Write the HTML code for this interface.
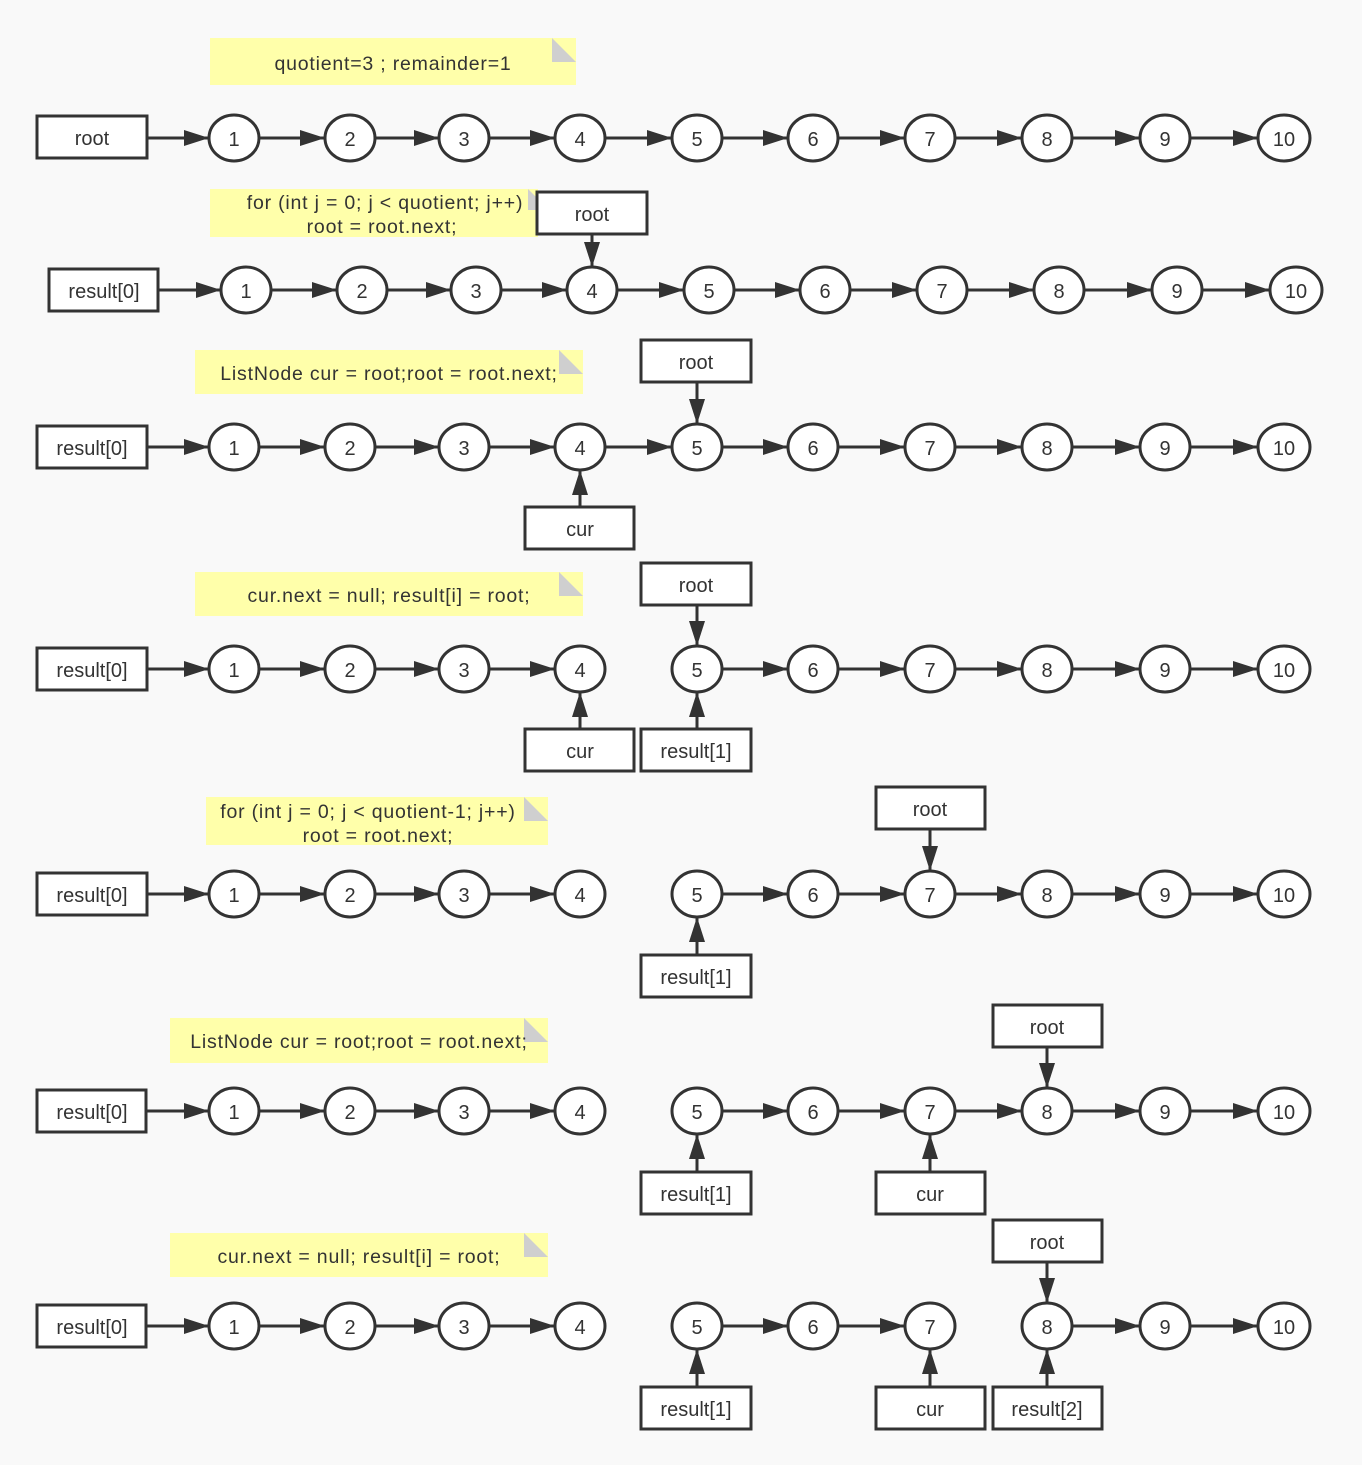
<!DOCTYPE html>
<html><head><meta charset="utf-8"><style>
html,body{margin:0;padding:0;background:#f9f9f9}
svg{display:block}
text{font-family:"Liberation Sans",sans-serif;font-size:20px;fill:#333;text-anchor:middle;dominant-baseline:central;transform:translateY(2px)}
.nt{letter-spacing:0.8px;font-size:19.5px}
.n{fill:#fff;stroke:#333;stroke-width:3}
.b{fill:#fff;stroke:#333;stroke-width:3}
.a{stroke:#333;stroke-width:3;fill:none}
.note{fill:#ffffaa}
.fold{fill:#cfcfcf}
</style></head><body>
<svg width="1362" height="1465" viewBox="0 0 1362 1465" xmlns="http://www.w3.org/2000/svg">
<defs>
<marker id="m" markerUnits="userSpaceOnUse" markerWidth="26" markerHeight="18" refX="25" refY="8" orient="auto"><path d="M0,0 L25,8 L0,16 z" fill="#333"/></marker>
<g id="c1"><ellipse class="n" cx="234" cy="0" rx="25" ry="23"/><text x="234" y="0">1</text></g>
<g id="c2"><ellipse class="n" cx="350" cy="0" rx="25" ry="23"/><text x="350" y="0">2</text></g>
<g id="c3"><ellipse class="n" cx="464" cy="0" rx="25" ry="23"/><text x="464" y="0">3</text></g>
<g id="c4"><ellipse class="n" cx="580" cy="0" rx="25" ry="23"/><text x="580" y="0">4</text></g>
<g id="c5"><ellipse class="n" cx="697" cy="0" rx="25" ry="23"/><text x="697" y="0">5</text></g>
<g id="c6"><ellipse class="n" cx="813" cy="0" rx="25" ry="23"/><text x="813" y="0">6</text></g>
<g id="c7"><ellipse class="n" cx="930" cy="0" rx="25" ry="23"/><text x="930" y="0">7</text></g>
<g id="c8"><ellipse class="n" cx="1047" cy="0" rx="25" ry="23"/><text x="1047" y="0">8</text></g>
<g id="c9"><ellipse class="n" cx="1165" cy="0" rx="25" ry="23"/><text x="1165" y="0">9</text></g>
<g id="c10"><ellipse class="n" cx="1284" cy="0" rx="26" ry="23"/><text x="1284" y="0">10</text></g>
<g id="a0"><line class="a" x1="147" y1="0" x2="209" y2="0" marker-end="url(#m)"/></g>
<g id="a1"><line class="a" x1="259" y1="0" x2="325" y2="0" marker-end="url(#m)"/></g>
<g id="a2"><line class="a" x1="375" y1="0" x2="439" y2="0" marker-end="url(#m)"/></g>
<g id="a3"><line class="a" x1="489" y1="0" x2="555" y2="0" marker-end="url(#m)"/></g>
<g id="a4"><line class="a" x1="605" y1="0" x2="672" y2="0" marker-end="url(#m)"/></g>
<g id="a5"><line class="a" x1="722" y1="0" x2="788" y2="0" marker-end="url(#m)"/></g>
<g id="a6"><line class="a" x1="838" y1="0" x2="905" y2="0" marker-end="url(#m)"/></g>
<g id="a7"><line class="a" x1="955" y1="0" x2="1022" y2="0" marker-end="url(#m)"/></g>
<g id="a8"><line class="a" x1="1072" y1="0" x2="1140" y2="0" marker-end="url(#m)"/></g>
<g id="a9"><line class="a" x1="1190" y1="0" x2="1258" y2="0" marker-end="url(#m)"/></g>
</defs>

<!-- notes -->
<rect class="note" x="210" y="38" width="366" height="47"/><path class="fold" d="M552,38 L576,62 L552,62 z"/><text class="nt" x="393" y="62">quotient=3 ;  remainder=1</text>
<rect class="note" x="210" y="189" width="328" height="48"/><path class="fold" d="M528,189 L538,199 L538,210 L528,210 z"/><text class="nt" x="385" y="201">for (int j = 0; j &lt; quotient; j++)</text><text class="nt" x="382" y="225">root = root.next;</text>
<rect class="note" x="195" y="350" width="388" height="44"/><path class="fold" d="M559,350 L583,374 L559,374 z"/><text class="nt" x="389" y="372">ListNode cur = root;root = root.next;</text>
<rect class="note" x="195" y="572" width="388" height="44"/><path class="fold" d="M559,572 L583,596 L559,596 z"/><text class="nt" x="389" y="594">cur.next = null; result[i] = root;</text>
<rect class="note" x="206" y="797" width="342" height="48"/><path class="fold" d="M524,797 L548,821 L524,821 z"/><text class="nt" x="368" y="810">for (int j = 0; j &lt; quotient-1; j++)</text><text class="nt" x="378" y="834">root = root.next;</text>
<rect class="note" x="170" y="1018" width="378" height="45"/><path class="fold" d="M524,1018 L548,1042 L524,1042 z"/><text class="nt" x="359" y="1040">ListNode cur = root;root = root.next;</text>
<rect class="note" x="170" y="1233" width="378" height="44"/><path class="fold" d="M524,1233 L548,1257 L524,1257 z"/><text class="nt" x="359" y="1255">cur.next = null; result[i] = root;</text>

<!-- row1 -->
<g transform="translate(0,138)">
<use href="#a0"/><use href="#a1"/><use href="#a2"/><use href="#a3"/><use href="#a4"/><use href="#a5"/><use href="#a6"/><use href="#a7"/><use href="#a8"/><use href="#a9"/>
<rect class="b" x="37" y="-22" width="110" height="42"/><text x="92" y="-1">root</text>
<use href="#c1"/><use href="#c2"/><use href="#c3"/><use href="#c4"/><use href="#c5"/><use href="#c6"/><use href="#c7"/><use href="#c8"/><use href="#c9"/><use href="#c10"/>
</g>

<!-- row2 -->
<g transform="translate(12,290)">
<use href="#a0"/><use href="#a1"/><use href="#a2"/><use href="#a3"/><use href="#a4"/><use href="#a5"/><use href="#a6"/><use href="#a7"/><use href="#a8"/><use href="#a9"/>
<rect class="b" x="37" y="-21" width="109" height="42"/><text x="92" y="0">result[0]</text>
<use href="#c1"/><use href="#c2"/><use href="#c3"/><use href="#c4"/><use href="#c5"/><use href="#c6"/><use href="#c7"/><use href="#c8"/><use href="#c9"/><use href="#c10"/>
</g>
<line class="a" x1="592" y1="234" x2="592" y2="267" marker-end="url(#m)"/>
<rect class="b" x="537" y="192" width="110" height="42"/><text x="592" y="213">root</text>

<!-- row3 -->
<g transform="translate(0,447)">
<use href="#a0"/><use href="#a1"/><use href="#a2"/><use href="#a3"/><use href="#a4"/><use href="#a5"/><use href="#a6"/><use href="#a7"/><use href="#a8"/><use href="#a9"/>
<rect class="b" x="37" y="-21" width="110" height="42"/><text x="92" y="0">result[0]</text>
<use href="#c1"/><use href="#c2"/><use href="#c3"/><use href="#c4"/><use href="#c5"/><use href="#c6"/><use href="#c7"/><use href="#c8"/><use href="#c9"/><use href="#c10"/>
</g>
<line class="a" x1="697" y1="382" x2="697" y2="424" marker-end="url(#m)"/>
<rect class="b" x="641" y="340" width="110" height="42"/><text x="696" y="361">root</text>
<line class="a" x1="580" y1="507" x2="580" y2="470" marker-end="url(#m)"/>
<rect class="b" x="525" y="507" width="109" height="42"/><text x="580" y="528">cur</text>

<!-- row4 -->
<g transform="translate(0,669)">
<use href="#a0"/><use href="#a1"/><use href="#a2"/><use href="#a3"/><use href="#a5"/><use href="#a6"/><use href="#a7"/><use href="#a8"/><use href="#a9"/>
<rect class="b" x="37" y="-21" width="110" height="42"/><text x="92" y="0">result[0]</text>
<use href="#c1"/><use href="#c2"/><use href="#c3"/><use href="#c4"/><use href="#c5"/><use href="#c6"/><use href="#c7"/><use href="#c8"/><use href="#c9"/><use href="#c10"/>
</g>
<line class="a" x1="697" y1="605" x2="697" y2="646" marker-end="url(#m)"/>
<rect class="b" x="641" y="563" width="110" height="42"/><text x="696" y="584">root</text>
<line class="a" x1="580" y1="729" x2="580" y2="692" marker-end="url(#m)"/>
<rect class="b" x="525" y="729" width="109" height="42"/><text x="580" y="750">cur</text>
<line class="a" x1="697" y1="729" x2="697" y2="692" marker-end="url(#m)"/>
<rect class="b" x="641" y="729" width="110" height="42"/><text x="696" y="750">result[1]</text>

<!-- row5 -->
<g transform="translate(0,894)">
<use href="#a0"/><use href="#a1"/><use href="#a2"/><use href="#a3"/><use href="#a5"/><use href="#a6"/><use href="#a7"/><use href="#a8"/><use href="#a9"/>
<rect class="b" x="37" y="-21" width="110" height="42"/><text x="92" y="0">result[0]</text>
<use href="#c1"/><use href="#c2"/><use href="#c3"/><use href="#c4"/><use href="#c5"/><use href="#c6"/><use href="#c7"/><use href="#c8"/><use href="#c9"/><use href="#c10"/>
</g>
<line class="a" x1="930" y1="829" x2="930" y2="871" marker-end="url(#m)"/>
<rect class="b" x="876" y="787" width="109" height="42"/><text x="930" y="808">root</text>
<line class="a" x1="697" y1="955" x2="697" y2="917" marker-end="url(#m)"/>
<rect class="b" x="641" y="955" width="110" height="42"/><text x="696" y="976">result[1]</text>

<!-- row6 -->
<g transform="translate(0,1111)">
<use href="#a0"/><use href="#a1"/><use href="#a2"/><use href="#a3"/><use href="#a5"/><use href="#a6"/><use href="#a7"/><use href="#a8"/><use href="#a9"/>
<rect class="b" x="37" y="-21" width="109" height="42"/><text x="92" y="0">result[0]</text>
<use href="#c1"/><use href="#c2"/><use href="#c3"/><use href="#c4"/><use href="#c5"/><use href="#c6"/><use href="#c7"/><use href="#c8"/><use href="#c9"/><use href="#c10"/>
</g>
<line class="a" x1="1047" y1="1047" x2="1047" y2="1088" marker-end="url(#m)"/>
<rect class="b" x="993" y="1005" width="109" height="42"/><text x="1047" y="1026">root</text>
<line class="a" x1="697" y1="1172" x2="697" y2="1134" marker-end="url(#m)"/>
<rect class="b" x="641" y="1172" width="110" height="42"/><text x="696" y="1193">result[1]</text>
<line class="a" x1="930" y1="1172" x2="930" y2="1134" marker-end="url(#m)"/>
<rect class="b" x="876" y="1172" width="109" height="42"/><text x="930" y="1193">cur</text>

<!-- row7 -->
<g transform="translate(0,1326)">
<use href="#a0"/><use href="#a1"/><use href="#a2"/><use href="#a3"/><use href="#a5"/><use href="#a6"/><use href="#a8"/><use href="#a9"/>
<rect class="b" x="37" y="-21" width="109" height="42"/><text x="92" y="0">result[0]</text>
<use href="#c1"/><use href="#c2"/><use href="#c3"/><use href="#c4"/><use href="#c5"/><use href="#c6"/><use href="#c7"/><use href="#c8"/><use href="#c9"/><use href="#c10"/>
</g>
<line class="a" x1="1047" y1="1262" x2="1047" y2="1303" marker-end="url(#m)"/>
<rect class="b" x="993" y="1220" width="109" height="42"/><text x="1047" y="1241">root</text>
<line class="a" x1="697" y1="1387" x2="697" y2="1349" marker-end="url(#m)"/>
<rect class="b" x="641" y="1387" width="110" height="42"/><text x="696" y="1408">result[1]</text>
<line class="a" x1="930" y1="1387" x2="930" y2="1349" marker-end="url(#m)"/>
<rect class="b" x="876" y="1387" width="109" height="42"/><text x="930" y="1408">cur</text>
<line class="a" x1="1047" y1="1387" x2="1047" y2="1349" marker-end="url(#m)"/>
<rect class="b" x="993" y="1387" width="109" height="42"/><text x="1047" y="1408">result[2]</text>
</svg>
</body></html>
